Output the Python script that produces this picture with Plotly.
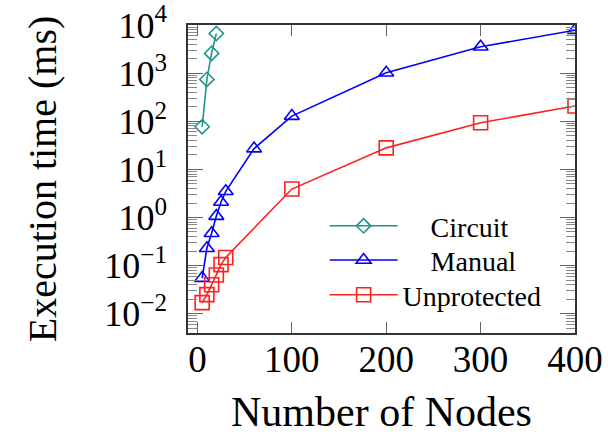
import plotly.graph_objects as go

# ---- data ----
circuit_x = [5, 10, 15, 20]
circuit_y = [77, 740, 2570, 6650]

manual_x = [5, 10, 15, 20, 25, 30, 60, 100, 200, 300, 400]
manual_y = [0.055, 0.23, 0.47, 1.07, 2.1, 3.5, 27, 128, 1020, 3530, 7800]

unprot_x = [5, 10, 15, 20, 25, 30, 100, 200, 300, 400]
unprot_y = [0.017, 0.025, 0.040, 0.064, 0.105, 0.148, 3.9, 28, 93, 207]

x_ticks = [0, 100, 200, 300, 400]
y_exps = [-2, -1, 0, 1, 2, 3, 4]
y_ticks = [10.0 ** e for e in y_exps]
y_ticktext = ["10<sup>%s</sup>" % (str(e).replace("-", "\u2212")) for e in y_exps]
y_minor = [m * 10.0 ** e for e in range(-3, 4) for m in range(2, 10)]

NB = "\u00a0"
series = [
    ("Circuit", circuit_x, circuit_y, "#1f968c", "diamond-open", 11, NB * 4 + "Circuit", "legend", 0.347),
    ("Manual", manual_x, manual_y, "#0000ff", "triangle-up-open", 13, NB * 4 + "Manual", "legend2", 0.236),
    ("Unprotected", unprot_x, unprot_y, "#ff2020", "square-open", 14, "Unprotected", "legend3", 0.123),
]

font_family = "Liberation Serif, Times New Roman, serif"

fig = go.Figure()
legends = {}
for name, xs, ys, col, sym, sz, label, leg, ly in series:
    fig.add_trace(go.Scatter(
        x=xs, y=ys, name=label, mode="lines+markers", legend=leg,
        line=dict(color=col, width=1.6),
        marker=dict(symbol=sym, size=sz, color=col, line=dict(color=col, width=1.6)),
    ))
    legends[leg] = dict(
        x=0.353, y=ly, xanchor="left", yanchor="middle",
        bgcolor="rgba(255,255,255,0)", borderwidth=0,
        font=dict(size=28, family=font_family),
        itemwidth=68, tracegroupgap=0,
    )

fig.update_layout(
    width=608, height=435,
    margin=dict(l=188, r=33, t=25, b=102),
    paper_bgcolor="white", plot_bgcolor="white",
    font=dict(family=font_family, color="black"),
    showlegend=True,
    **legends,
)

fig.update_xaxes(
    range=[-10, 400], tickmode="array", tickvals=x_ticks, ticktext=[str(v) for v in x_ticks],
    automargin=False,
    showgrid=False, zeroline=False,
    showline=True, linecolor="#333333", linewidth=1.5, mirror="ticks",
    ticks="inside", ticklen=11, tickwidth=1.2, tickcolor="#666666",
    tickfont=dict(size=37, family=font_family),
    ticklabelstandoff=-7,
    title=dict(text="Number of Nodes", font=dict(size=42, family=font_family), standoff=20),
)

fig.update_yaxes(
    type="log", range=[-2.4, 4.0], tickmode="array", tickvals=y_ticks, ticktext=y_ticktext,
    automargin=False,
    showgrid=False, zeroline=False,
    showline=True, linecolor="#333333", linewidth=1.5, mirror="ticks",
    ticks="inside", ticklen=15, tickwidth=1.2, tickcolor="#666666",
    minor=dict(tickmode="array", tickvals=y_minor, ticks="inside", ticklen=9, tickwidth=1,
               tickcolor="#888888", showgrid=False),
    tickfont=dict(size=36, family=font_family),
    ticklabelstandoff=12,
    title=dict(text="Execution time (ms)", font=dict(size=40, family=font_family), standoff=35),
)

fig.write_html("out.html")
